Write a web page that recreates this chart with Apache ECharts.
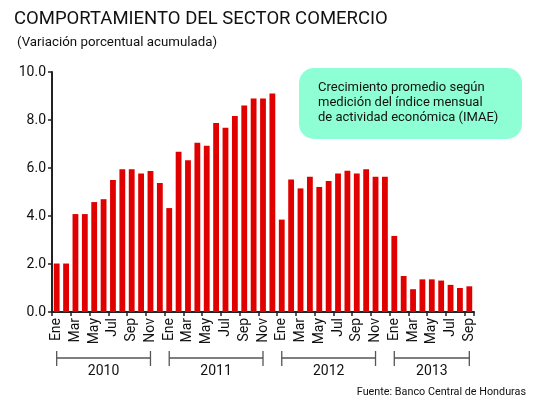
<!DOCTYPE html>
<html>
<head>
<meta charset="utf-8">
<script src="https://cdn.jsdelivr.net/npm/echarts@6/dist/echarts.min.js"></script>
<style>
html,body{margin:0;padding:0;background:#fff;}
#c{width:539px;height:400px;}
</style>
</head>
<body>
<div id="c"></div>
<script>
var months = ['Ene','Feb','Mar','Abr','May','Jun','Jul','Ago','Sep','Oct','Nov','Dic'];
var years = ['2010','2011','2012','2013'];
var v2010 = [2.02, 2.02, 4.08, 4.08, 4.58, 4.70, 5.50, 5.95, 5.95, 5.77, 5.88, 5.38];
var v2011 = [4.33, 6.68, 6.32, 7.05, 6.93, 7.88, 7.68, 8.17, 8.60, 8.90, 8.90, 9.10];
var v2012 = [3.85, 5.52, 5.15, 5.64, 5.21, 5.46, 5.77, 5.89, 5.77, 5.95, 5.64, 5.64];
var v2013 = [3.17, 1.50, 0.95, 1.36, 1.36, 1.31, 1.13, 1.00, 1.07];
var yTicks = [0, 2, 4, 6, 8, 10];

var FONT = 'Roboto, "Liberation Sans", sans-serif';
var series = [v2010, v2011, v2012, v2013];
var cats = [], vals = [], groups = [];
series.forEach(function (arr, yi) {
  var start = cats.length;
  arr.forEach(function (v, mi) { cats.push(months[mi]); vals.push(v); });
  var end = cats.length - 1;
  if ((end - start) % 2 === 1) end -= 1; // last labeled month
  groups.push({ year: years[yi], start: start, end: end });
});

var chart = echarts.init(document.getElementById('c'), null, { renderer: 'canvas' });
var option = {
  animation: false,
  backgroundColor: '#fff',
  grid: { left: 52, right: 65, top: 72, bottom: 88, containLabel: false },
  xAxis: {
    type: 'category',
    data: cats,
    boundaryGap: true,
    axisLine: { show: true, lineStyle: { color: '#222', width: 2 } },
    axisTick: { show: true, interval: 1, length: 4, alignWithLabel: false, lineStyle: { color: '#222', width: 1.5 } },
    axisLabel: { interval: 1, rotate: 90, margin: 6, fontSize: 14, color: '#111', fontFamily: FONT }
  },
  yAxis: {
    type: 'value',
    min: yTicks[0],
    max: yTicks[yTicks.length - 1],
    interval: yTicks[1] - yTicks[0],
    axisLine: { show: true, lineStyle: { color: '#222', width: 2 } },
    axisTick: { show: true, length: 4, lineStyle: { color: '#222', width: 1.5 } },
    splitLine: { show: false },
    axisLabel: { margin: 6, fontSize: 14, color: '#111', fontFamily: FONT,
      formatter: function (v) { return v.toFixed(1); } }
  },
  series: [{
    type: 'bar',
    data: vals,
    barCategoryGap: '38%',
    itemStyle: { color: '#e00000' }
  }],
  graphic: []
};
chart.setOption(option);

var y0 = chart.convertToPixel({ yAxisIndex: 0 }, 0);
var g = [
  { type: 'text', left: 14, top: 10, style: { text: 'COMPORTAMIENTO DEL SECTOR COMERCIO', fontSize: 18.5, fontFamily: FONT, fill: '#111' } },
  { type: 'text', left: 17, top: 36, style: { text: '(Variación porcentual acumulada)', fontSize: 13.3, fontFamily: FONT, fill: '#111' } },
  { type: 'rect', shape: { x: 299, y: 68, width: 223, height: 71, r: 15 }, style: { fill: '#8effd5' } },
  { type: 'text', x: 318, y: 80, style: { text: 'Crecimiento promedio según\nmedición del índice mensual\nde actividad económica (IMAE)', fontSize: 13, lineHeight: 15, fontFamily: FONT, fill: '#111', textVerticalAlign: 'top' } },
  { type: 'text', x: 526, y: 392, style: { text: 'Fuente: Banco Central de Honduras', fontSize: 10.8, fontFamily: FONT, fill: '#111', textAlign: 'right', textVerticalAlign: 'middle' } }
];
groups.forEach(function (gr) {
  var x1 = chart.convertToPixel({ xAxisIndex: 0 }, gr.start);
  var x2 = chart.convertToPixel({ xAxisIndex: 0 }, gr.end);
  var yl = y0 + 46;
  var st = { stroke: '#555', lineWidth: 1.3 };
  g.push({ type: 'line', shape: { x1: x1, y1: yl, x2: x2, y2: yl }, style: st });
  g.push({ type: 'line', shape: { x1: x1, y1: yl - 7, x2: x1, y2: yl + 8 }, style: st });
  g.push({ type: 'line', shape: { x1: x2, y1: yl - 7, x2: x2, y2: yl + 8 }, style: st });
  g.push({ type: 'text', x: (x1 + x2) / 2, y: yl + 13, style: { text: gr.year, fontSize: 14, fontFamily: FONT, fill: '#111', textAlign: 'center', textVerticalAlign: 'middle' } });
});
chart.setOption({ graphic: g });
</script>
</body>
</html>
